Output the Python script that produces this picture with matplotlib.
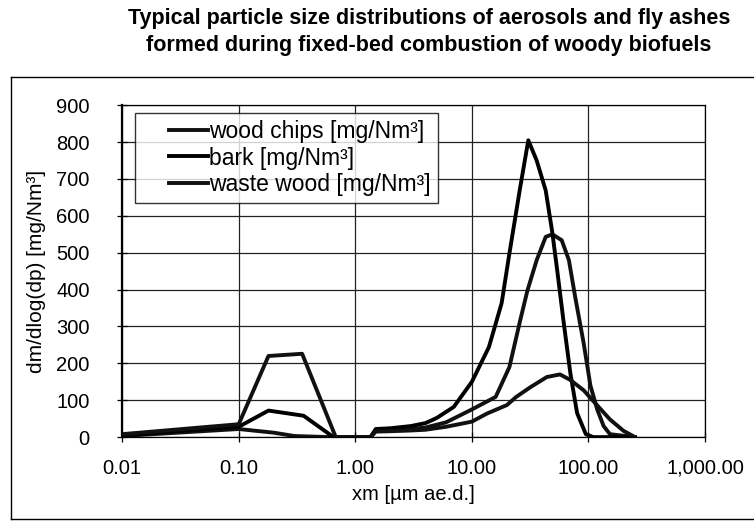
import matplotlib
matplotlib.use('Agg')
import matplotlib.pyplot as plt
from matplotlib.lines import Line2D
from matplotlib.legend_handler import HandlerLine2D

plt.rcParams['font.family'] = ['Liberation Sans', 'DejaVu Sans']

# particle size [um] and dm/dlog(dp) [mg/Nm3]
x_wood_chips = [0.01, 0.1, 0.2, 0.3, 0.6, 1.0, 1.35, 1.5, 2, 3, 4, 6, 10, 16, 21, 26, 30, 36,
                43, 49, 59, 68, 77, 91, 104, 119, 135, 153, 250]
y_wood_chips = [3, 22, 12, 3, 0, 0, 0, 18, 20, 22, 26, 40, 75, 109, 190, 317, 398, 480,
                543, 550, 534, 480, 380, 255, 140, 75, 30, 8, 0]

x_bark = [0.01, 0.1, 0.18, 0.36, 0.65, 1.0, 1.35, 1.5, 2, 3, 4, 5, 7, 10, 14, 18, 21, 26,
          30.5, 36, 43, 49, 54, 61, 70, 80, 95, 110, 150, 250]
y_bark = [5, 28, 72, 58, 0, 0, 0, 22, 24, 30, 38, 52, 82, 150, 244, 363, 498, 678,
          805, 750, 669, 555, 452, 317, 173, 65, 8, 0, 0, 0]

x_waste_wood = [0.01, 0.1, 0.18, 0.35, 0.68, 1.0, 1.35, 1.5, 2, 3, 4, 6, 10, 13.5, 20, 24,
                32, 44, 57, 70, 91, 110, 153, 200, 235, 250]
y_waste_wood = [8, 35, 220, 226, 0, 0, 0, 15, 16, 18, 20, 28, 42, 64, 87, 109,
                136, 163, 170, 155, 127, 98, 48, 17, 5, 0]

x_ticks = [0.01, 0.1, 1, 10, 100, 1000]
x_tick_labels = ['0.01', '0.10', '1.00', '10.00', '100.00', '1,000.00']
y_ticks = list(range(0, 1000, 100))

fig = plt.figure(figsize=(7.54, 5.21), dpi=100)
ax = fig.add_axes([0.162, 0.161, 0.773, 0.637])

lw = 2.8
ax.plot(x_wood_chips, y_wood_chips, color='#111111', lw=lw, label='wood chips [mg/Nm³]')
ax.plot(x_bark, y_bark, color='#000000', lw=lw, label='bark [mg/Nm³]')
ax.plot(x_waste_wood, y_waste_wood, color='#111111', lw=lw, label='waste wood [mg/Nm³]')

ax.set_xscale('log')
ax.set_xlim(0.01, 1000)
ax.set_ylim(0, 900)
ax.set_xticks(x_ticks)
ax.set_xticklabels(x_tick_labels)
ax.minorticks_off()
ax.set_yticks(y_ticks)
ax.grid(True, color='#222222', lw=0.9)
ax.set_axisbelow(True)
ax.tick_params(axis='both', direction='inout', length=7, width=0.9, labelsize=14.5)
ax.tick_params(axis='y', pad=20)
ax.tick_params(axis='x', pad=12)
for s in ax.spines.values():
    s.set_linewidth(0.9)
ax.spines['left'].set_linewidth(1.6)

ax.set_xlabel('xm [µm ae.d.]', fontsize=14.5, labelpad=5)
ax.set_ylabel('dm/dlog(dp) [mg/Nm³]', fontsize=15, labelpad=7)

fs_leg = 16.5
leg = ax.legend(loc='upper left', bbox_to_anchor=(0.022, 0.976), borderaxespad=0,
                fontsize=fs_leg, frameon=True, fancybox=False, edgecolor='black',
                handlelength=2.9, handletextpad=0.05, labelspacing=0.15, borderpad=0.3,
                handler_map={Line2D: HandlerLine2D(xpad=1.2)})
leg.get_frame().set_linewidth(1.0)

fig.text(0.569, 0.965, 'Typical particle size distributions of aerosols and fly ashes',
         ha='center', va='center', fontsize=15.5, fontweight='bold')
fig.text(0.569, 0.913, 'formed during fixed-bed combustion of woody biofuels',
         ha='center', va='center', fontsize=15.5, fontweight='bold')

# outer chart frame
top = 1 - 77 / 521
fig.add_artist(Line2D([0.014, 1.0], [top, top], color='black', lw=1.0))
fig.add_artist(Line2D([0.014, 0.014], [0.004, top], color='black', lw=1.0))
fig.add_artist(Line2D([0.014, 1.0], [0.004, 0.004], color='black', lw=1.0))

fig.savefig('out.png', dpi=100)
